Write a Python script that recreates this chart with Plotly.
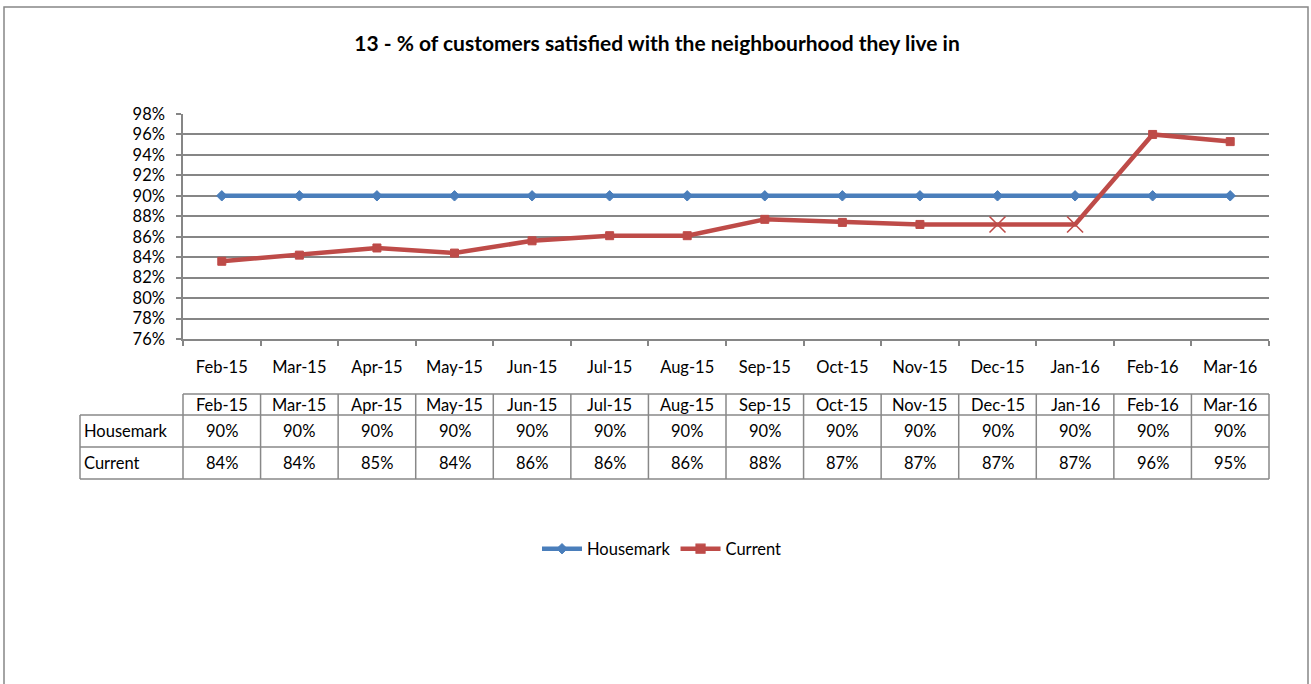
import plotly.graph_objects as go

months = ["Feb-15", "Mar-15", "Apr-15", "May-15", "Jun-15", "Jul-15", "Aug-15",
          "Sep-15", "Oct-15", "Nov-15", "Dec-15", "Jan-16", "Feb-16", "Mar-16"]
housemark = [0.90] * 14
current = [0.836, 0.842, 0.849, 0.844, 0.856, 0.861, 0.861,
           0.877, 0.874, 0.872, 0.872, 0.872, 0.960, 0.953]
# points flagged with a cross instead of the usual square
flagged = ["Dec-15", "Jan-16"]

W, H = 1311, 684
L, R, T, B = 183, 1269, 114, 339          # plot area in pixels
FONT = "Lato"
FS = 16.5
BLUE = "#4A7EBB"
RED = "#BE4B48"
GRID = "#868686"


def px_x(p):
    return (p - L) / (R - L)


def px_y(p):
    return (B - p) / (B - T)


sym = ["x-thin" if m in flagged else "square" for m in months]
size = [16 if m in flagged else 8 for m in months]
lw = [1.6 if m in flagged else 1 for m in months]

fig = go.Figure()
fig.add_trace(go.Scatter(
    x=months, y=housemark, name="Housemark", mode="lines+markers",
    line=dict(color=BLUE, width=4.5),
    marker=dict(symbol="diamond", size=8, color=BLUE,
                line=dict(color=BLUE, width=1)),
))
fig.add_trace(go.Scatter(
    x=months, y=current, name="Current", mode="lines+markers",
    line=dict(color=RED, width=4.5),
    marker=dict(symbol=sym, size=size, color=RED, opacity=1,
                line=dict(color=RED, width=lw)),
))

shapes = []
annotations = []

# outer chart frame
shapes.append(dict(type="rect", xref="paper", yref="paper",
                   x0=px_x(4), x1=px_x(1308), y0=px_y(700), y1=px_y(7),
                   line=dict(color="#878787", width=1.5), layer="below"))

# data table under the axis
n = len(months)
row_y = [394, 415, 447, 479]
label_left = 80
line_style = dict(color="#888888", width=1.5)
# horizontal rules
shapes.append(dict(type="line", xref="x domain", yref="paper",
                   x0=0, x1=1, y0=px_y(row_y[0]), y1=px_y(row_y[0]), line=line_style))
for yy in row_y[1:]:
    shapes.append(dict(type="line", xref="paper", yref="paper",
                       x0=px_x(label_left), x1=1, y0=px_y(yy), y1=px_y(yy), line=line_style))
# vertical rules
shapes.append(dict(type="line", xref="paper", yref="paper",
                   x0=px_x(label_left), x1=px_x(label_left),
                   y0=px_y(row_y[1]), y1=px_y(row_y[3]), line=line_style))
for i in range(n + 1):
    shapes.append(dict(type="line", xref="x domain", yref="paper",
                       x0=i / n, x1=i / n, y0=px_y(row_y[0]), y1=px_y(row_y[3]),
                       line=line_style))

cell_font = dict(family=FONT, size=FS, color="#000000")
for i, m in enumerate(months):
    cx = (i + 0.5) / n
    for r, txt in enumerate([m, f"{housemark[i]:.0%}", f"{current[i]:.0%}"]):
        annotations.append(dict(
            xref="x domain", yref="paper", x=cx,
            y=px_y((row_y[r] + row_y[r + 1]) / 2),
            text=txt, showarrow=False, font=cell_font,
            xanchor="center", yanchor="middle"))
for r, name in [(1, "Housemark"), (2, "Current")]:
    annotations.append(dict(
        xref="paper", yref="paper", x=px_x(label_left + 2),
        y=px_y((row_y[r] + row_y[r + 1]) / 2),
        text=name, showarrow=False, font=cell_font,
        xanchor="left", yanchor="middle"))

fig.update_layout(
    width=W, height=H,
    margin=dict(l=L, r=W - R, t=T, b=H - B),
    paper_bgcolor="white", plot_bgcolor="white",
    font=dict(family=FONT, size=FS, color="#000000"),
    title=dict(text="<b>13 - % of customers satisfied with the neighbourhood they live in</b>",
               xref="container", x=657 / W, xanchor="center",
               yref="container", y=1 - 44 / H, yanchor="middle",
               font=dict(family=FONT, size=21, color="#000000")),
    showlegend=True,
    legend=dict(orientation="h", x=px_x(662), xanchor="center",
                y=px_y(549), yanchor="middle",
                font=dict(family=FONT, size=FS, color="#000000"),
                itemwidth=40, bgcolor="rgba(0,0,0,0)"),
    shapes=shapes,
    annotations=annotations,
)
fig.update_xaxes(
    type="category", showgrid=False, showline=True, linecolor=GRID, linewidth=1.5,
    ticks="outside", tickson="boundaries", ticklen=5, tickcolor=GRID, tickwidth=1.5,
    tickfont=dict(family=FONT, size=FS), ticklabelstandoff=12,
    range=[-0.5, n - 0.5],
)
fig.update_yaxes(
    range=[0.76, 0.98], dtick=0.02, tick0=0.76, tickformat=".0%",
    showgrid=True, gridcolor=GRID, gridwidth=1.5,
    showline=True, linecolor=GRID, linewidth=1.5,
    ticks="outside", ticklen=5, tickcolor=GRID, tickwidth=1.5,
    tickfont=dict(family=FONT, size=FS), ticklabelstandoff=8, zeroline=False,
)

fig.write_html("out.html")
